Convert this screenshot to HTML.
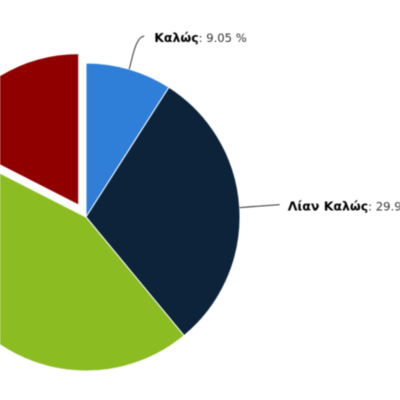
<!DOCTYPE html>
<html>
<head>
<meta charset="utf-8">
<style>
html,body{margin:0;padding:0;width:400px;height:400px;background:#fff;overflow:hidden}
svg{display:block;filter:blur(0.4px)}
text{font-family:"DejaVu Sans","Liberation Sans",sans-serif;font-size:11.6px;fill:#333}
.b{font-weight:bold;fill:#000;font-size:12.5px}
</style>
</head>
<body>
<svg id="chart" width="400" height="400" viewBox="0 0 400 400" xmlns="http://www.w3.org/2000/svg"></svg>
<script>
const categories = ['Καλώς', 'Λίαν Καλώς', 'Άριστα', 'Σχεδόν Καλώς'];
const seriesValues = [9.05, 29.95, 43.5, 17.5];
const sliceColors = ['#2f7ed8', '#0d233a', '#8bbc21', '#910000'];
const explodedFlags = [false, false, false, true];
const printedLabels = ['9.05 %', '29.95 %', '', ''];

const NS = 'http://www.w3.org/2000/svg';
const svg = document.getElementById('chart');
const cx = 86, cy = 217, radius = 154, explodedRadius = 151.5, explodeBy = 14;

function angleOf(value, total) { return value / total * Math.PI * 2; }
function polar(x, y, r, a) { return [x + r * Math.sin(a), y - r * Math.cos(a)]; }

const total = seriesValues.reduce((s, v) => s + v, 0);
let start = 0;
seriesValues.forEach((v, i) => {
  const sweep = angleOf(v, total);
  const end = start + sweep;
  const mid = start + sweep / 2;
  let ox = cx, oy = cy, r = radius;
  if (explodedFlags[i]) {
    const o = polar(cx, cy, explodeBy, mid);
    ox = o[0]; oy = o[1];
    r = explodedRadius;
  }
  const p0 = polar(ox, oy, r, start);
  const p1 = polar(ox, oy, r, end);
  const path = document.createElementNS(NS, 'path');
  path.setAttribute('d', 'M' + ox + ' ' + oy + 'L' + p0[0] + ' ' + p0[1] + 'A' + r + ' ' + r + ' 0 ' + (sweep > Math.PI ? 1 : 0) + ' 1 ' + p1[0] + ' ' + p1[1] + 'Z');
  path.setAttribute('fill', sliceColors[i]);
  path.setAttribute('stroke', '#fff');
  path.setAttribute('stroke-width', '1');
  path.setAttribute('stroke-linejoin', 'round');
  
  
  svg.appendChild(path);

  if (printedLabels[i]) {
    const anchor = polar(cx, cy, radius, mid);
    let d, tx, ty;
    if (i === 0) {
      d = 'M' + anchor[0] + ' ' + anchor[1] + 'C' + (anchor[0] + 3) + ' ' + (anchor[1] - 10) + ' ' + (anchor[0] + 6) + ' ' + (anchor[1] - 32) + ' ' + (anchor[0] + 15) + ' ' + (anchor[1] - 33);
      tx = anchor[0] + 25; ty = anchor[1] - 27;
    } else {
      d = 'M' + anchor[0] + ' ' + anchor[1] + 'L' + (anchor[0] + 40) + ' ' + (anchor[1] - 3);
      tx = anchor[0] + 48; ty = anchor[1] + 3;
    }
    const line = document.createElementNS(NS, 'path');
    line.setAttribute('d', d);
    line.setAttribute('fill', 'none');
    line.setAttribute('stroke', '#333');
    line.setAttribute('stroke-width', '1');
    
    
    svg.appendChild(line);

    const label = document.createElementNS(NS, 'text');
    label.setAttribute('x', tx);
    label.setAttribute('y', ty);
    
    
    const bold = document.createElementNS(NS, 'tspan');
    bold.setAttribute('class', 'b');
    bold.textContent = categories[i];
    label.appendChild(bold);
    label.appendChild(document.createTextNode(': ' + printedLabels[i]));
    svg.appendChild(label);
  }
  start = end;
});
</script>
</body>
</html>
